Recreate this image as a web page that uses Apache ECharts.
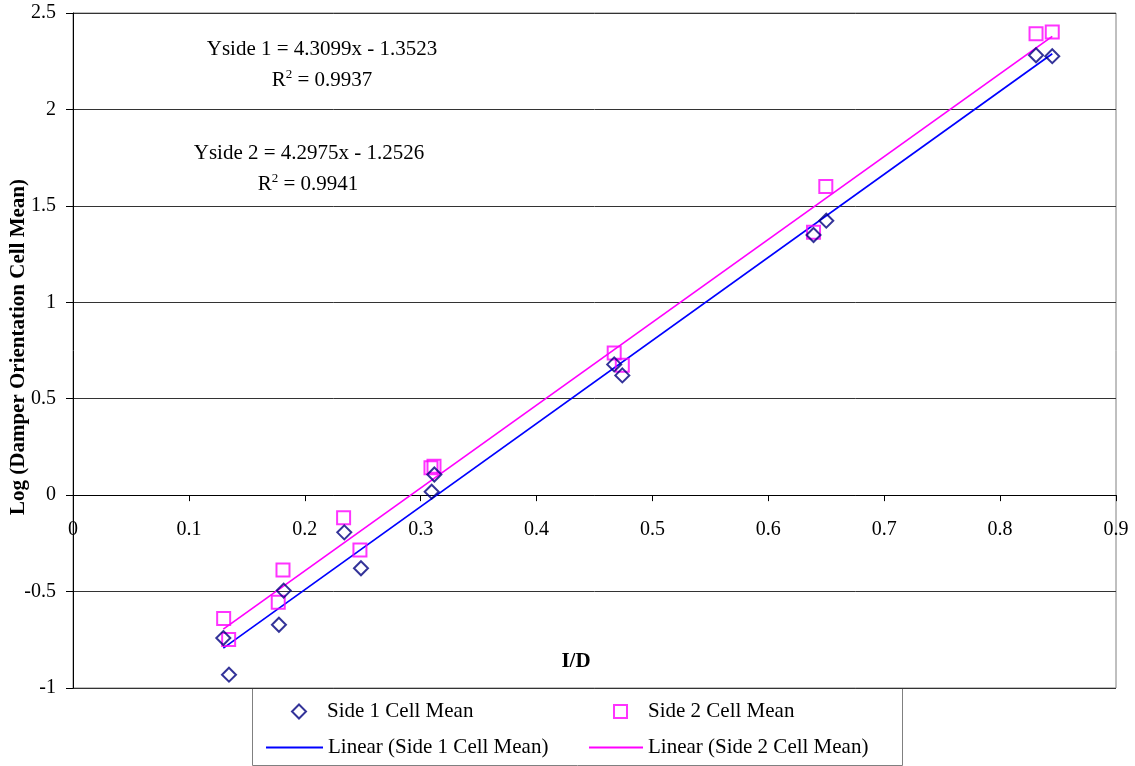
<!DOCTYPE html>
<html>
<head>
<meta charset="utf-8">
<script src="https://cdn.jsdelivr.net/npm/echarts@6/dist/echarts.min.js"></script>
<style>
html,body{margin:0;padding:0;background:#fff;}
#chart{width:1135px;height:766px;}
</style>
</head>
<body>
<div id="chart"></div>
<script>
// ---- data ----
var side1X = [0.1297, 0.1346, 0.1777, 0.1818, 0.2341, 0.2485, 0.3095, 0.3118, 0.467, 0.474, 0.639, 0.650, 0.831, 0.845];
var side1Y = [-0.741, -0.931, -0.672, -0.495, -0.193, -0.379, 0.018, 0.107, 0.678, 0.621, 1.349, 1.423, 2.281, 2.276];
var side2X = [0.130, 0.1343, 0.1771, 0.1812, 0.2335, 0.2476, 0.3089, 0.3115, 0.467, 0.474, 0.639, 0.6496, 0.831, 0.845];
var side2Y = [-0.640, -0.748, -0.555, -0.388, -0.117, -0.285, 0.142, 0.150, 0.737, 0.673, 1.363, 1.601, 2.392, 2.402];
// trendline end points
var trend1X = [0.1297, 0.845];
var trend1Y = [-0.793, 2.289];
var trend2X = [0.1297, 0.845];
var trend2Y = [-0.695, 2.379];
var seriesNames = ['Side 1 Cell Mean', 'Side 2 Cell Mean', 'Linear (Side 1 Cell Mean)', 'Linear (Side 2 Cell Mean)'];
var eq1 = 'Yside 1 = 4.3099x - 1.3523';
var r1 = ' = 0.9937';
var eq2 = 'Yside 2 = 4.2975x - 1.2526';
var r2 = ' = 0.9941';
var yTitle = 'Log (Damper Orientation Cell Mean)';
var xTitle = 'I/D';

function zip(a, b) { return a.map(function (v, i) { return [v, b[i]]; }); }

var FONT = 'Liberation Serif';
var chart = echarts.init(document.getElementById('chart'), null, {renderer: 'canvas'});

var GL = 73, GR = 19, GT = 13, GB = 78;
var H = 766, plotH = H - GT - GB;
var Y_MIN = -1, Y_MAX = 2.5;
var zeroY = GT + plotH * (Y_MAX - 0) / (Y_MAX - Y_MIN);

function legendAt(name, left, top, iw, ih, item, padLeft) {
  return {
    data: [Object.assign({name: name}, item || {})],
    left: left, top: top, padding: 0,
    itemWidth: iw, itemHeight: ih, itemGap: 0,
    selectedMode: false,
    textStyle: {fontFamily: FONT, fontSize: 21, color: '#000', padding: [0, 0, 0, padLeft || 0]}
  };
}

var option = {
  backgroundColor: '#fff',
  animation: false,
  grid: [
    {left: GL, right: GR, top: GT, bottom: GB, show: true, borderColor: '#808080', borderWidth: 1, backgroundColor: 'transparent'},
    {left: GL, right: GR, top: GT, bottom: H - zeroY, show: false}
  ],
  xAxis: [
    {
      gridIndex: 0, type: 'value', min: 0, max: 0.9, interval: 0.1,
      axisLine: {show: false}, axisTick: {show: false}, axisLabel: {show: false}, splitLine: {show: false}
    },
    {
      gridIndex: 1, type: 'value', min: 0, max: 0.9, interval: 0.1, position: 'bottom',
      axisLine: {show: true, onZero: false, lineStyle: {color: '#000', width: 1}},
      axisTick: {show: true, inside: false, length: 6, lineStyle: {color: '#000'}},
      axisLabel: {fontFamily: FONT, fontSize: 20, color: '#000', margin: 25},
      splitLine: {show: false}
    }
  ],
  yAxis: [
    {
      gridIndex: 0, type: 'value', min: Y_MIN, max: Y_MAX, interval: 0.5,
      axisLine: {show: true, onZero: false, lineStyle: {color: '#000', width: 1}},
      axisTick: {show: true, inside: false, length: 7, lineStyle: {color: '#000'}},
      axisLabel: {fontFamily: FONT, fontSize: 20, color: '#000', margin: 17},
      splitLine: {show: true, lineStyle: {color: '#333', width: 1}}
    },
    {
      gridIndex: 1, type: 'value', min: 0, max: Y_MAX, show: false
    }
  ],
  legend: [
    legendAt(seriesNames[0], 291, 701, 14, 14, {icon: 'diamond', itemStyle: {color: '#fff', borderColor: '#000080', borderWidth: 2}}, 16),
    legendAt(seriesNames[1], 613, 701, 13, 13, {icon: 'rect', itemStyle: {color: '#fff', borderColor: '#FF00FF', borderWidth: 2}}, 16),
    legendAt(seriesNames[2], 266, 737, 57, 2, {icon: 'rect', itemStyle: {color: '#0000FF', borderWidth: 0}}, 0),
    legendAt(seriesNames[3], 589, 737, 54, 2, {icon: 'rect', itemStyle: {color: '#FF00FF', borderWidth: 0}}, 0)
  ],
  series: [
    {
      name: seriesNames[2], type: 'line', data: zip(trend1X, trend1Y),
      symbol: 'none', lineStyle: {color: '#0000FF', width: 1.7}, itemStyle: {color: '#0000FF'}, z: 2
    },
    {
      name: seriesNames[3], type: 'line', data: zip(trend2X, trend2Y),
      symbol: 'none', lineStyle: {color: '#FF00FF', width: 1.7}, itemStyle: {color: '#FF00FF'}, z: 2
    },
    {
      name: seriesNames[1], type: 'scatter', data: zip(side2X, side2Y),
      symbol: 'rect', symbolSize: 13,
      itemStyle: {color: 'rgba(255,255,255,0)', borderColor: '#FF00FF', borderWidth: 2}, z: 3
    },
    {
      name: seriesNames[0], type: 'scatter', data: zip(side1X, side1Y),
      symbol: 'diamond', symbolSize: 14,
      itemStyle: {color: 'rgba(255,255,255,0)', borderColor: '#000080', borderWidth: 2}, z: 4
    }
  ],
  graphic: [
    {type: 'rect', shape: {x: 252.5, y: 688.5, width: 650, height: 77}, style: {fill: '#fff', stroke: '#808080', lineWidth: 1}, z: 0},
    {type: 'text', x: 322, y: 49, style: {text: eq1, font: '21px "' + FONT + '"', fill: '#000', textAlign: 'center', textVerticalAlign: 'middle'}},
    {type: 'text', x: 322, y: 80, style: {
      text: '{r|R}{s|2}{r|' + r1 + '}', textAlign: 'center', textVerticalAlign: 'middle',
      rich: {r: {fontFamily: FONT, fontSize: 21, fill: '#000', lineHeight: 24}, s: {fontFamily: FONT, fontSize: 13, fill: '#000', verticalAlign: 'top', lineHeight: 24}}
    }},
    {type: 'text', x: 309, y: 153, style: {text: eq2, font: '21px "' + FONT + '"', fill: '#000', textAlign: 'center', textVerticalAlign: 'middle'}},
    {type: 'text', x: 308, y: 184, style: {
      text: '{r|R}{s|2}{r|' + r2 + '}', textAlign: 'center', textVerticalAlign: 'middle',
      rich: {r: {fontFamily: FONT, fontSize: 21, fill: '#000', lineHeight: 24}, s: {fontFamily: FONT, fontSize: 13, fill: '#000', verticalAlign: 'top', lineHeight: 24}}
    }},
    {type: 'text', x: 19, y: 347, rotation: Math.PI / 2, style: {text: yTitle, font: 'bold 21px "' + FONT + '"', fill: '#000', textAlign: 'center', textVerticalAlign: 'middle'}},
    {type: 'text', x: 576, y: 662, style: {text: xTitle, font: 'bold 21px "' + FONT + '"', fill: '#000', textAlign: 'center', textVerticalAlign: 'middle'}}
  ]
};
chart.setOption(option);
</script>
</body>
</html>
